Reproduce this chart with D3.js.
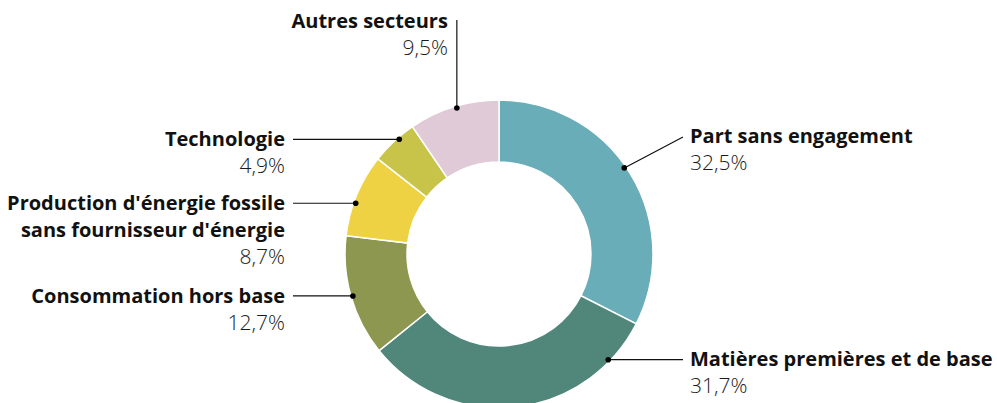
<!doctype html>
<html lang="fr">
<head>
<meta charset="UTF-8" />
<title>Répartition par secteur</title>
<script src="https://cdn.jsdelivr.net/npm/d3@7"></script>
<style>
  html, body { margin: 0; padding: 0; background: #fff; }
  svg { display: block; font-family: "Open Sans", Lato, sans-serif; }
  .name { font-weight: 700; fill: #111; font-size: 20px; }
  .pct { font-weight: 300; fill: #1a1a1a; font-size: 21px; }
</style>
</head>
<body>
<div id="chart"></div>
<script>
// data
const categories = [
  "Part sans engagement",
  "Matières premières et de base",
  "Consommation hors base",
  "Production d'énergie fossile|sans fournisseur d'énergie",
  "Technologie",
  "Autres secteurs"
];
const values = [32.5, 31.7, 12.7, 8.7, 4.9, 9.5];
const colors = ["#69adb8", "#51877b", "#8e974f", "#efd244", "#c8c44a", "#e0cad7"];

// label placement (side, shift of the anchor angle in degrees)
const labelSide = ["right", "right", "left", "left", "left", "top"];
const anchorShift = [-3, -40, 0, -3, 2, 1];

const width = 997, height = 403;
const cx = 499, cy = 254;
const outerR = 154, innerR = 92;

const svg = d3.select("#chart").append("svg")
  .attr("width", width)
  .attr("height", height);

const pie = d3.pie().sort(null).value(d => d);
const arcs = pie(values);
const arc = d3.arc().innerRadius(innerR).outerRadius(outerR);

const g = svg.append("g").attr("transform", `translate(${cx},${cy})`);

g.selectAll("path")
  .data(arcs)
  .enter()
  .append("path")
  .attr("d", arc)
  .attr("fill", (_, i) => colors[i])
  .attr("stroke", "#fff")
  .attr("stroke-width", 1.5);

const fmt = v => d3.format(".1f")(v).replace(".", ",") + "%";

arcs.forEach((a, i) => {
  const ang = (a.startAngle + a.endAngle) / 2 + anchorShift[i] * Math.PI / 180;
  const r = outerR - 2;
  const px = cx + r * Math.sin(ang);
  const py = cy - r * Math.cos(ang);
  const lines = categories[i].split("|");
  const side = labelSide[i];

  let x2, y2, tx, ty, anchor;
  if (side === "right") {
    x2 = 683;
    y2 = i === 0 ? py - 31 : py;
    tx = 690; ty = y2 + 6; anchor = "start";
  } else if (side === "left") {
    x2 = 293; y2 = py;
    tx = 285; anchor = "end";
    ty = py + 7;
  } else {
    x2 = px; y2 = 20;
    tx = px - 9; ty = 28; anchor = "end";
  }

  svg.append("line")
    .attr("x1", px).attr("y1", py)
    .attr("x2", x2).attr("y2", y2)
    .attr("stroke", "#111")
    .attr("stroke-width", 1.2);

  svg.append("circle")
    .attr("cx", px).attr("cy", py)
    .attr("r", 2.8)
    .attr("fill", "#000");

  const t = svg.append("text")
    .attr("x", tx).attr("y", ty)
    .attr("text-anchor", anchor);

  lines.forEach((l, k) => {
    t.append("tspan")
      .attr("class", "name")
      .attr("x", tx)
      .attr("dy", k === 0 ? 0 : 27)
      .text(l);
  });
  t.append("tspan")
    .attr("class", "pct")
    .attr("x", tx)
    .attr("dy", 27)
    .text(fmt(values[i]));
});
</script>
</body>
</html>
